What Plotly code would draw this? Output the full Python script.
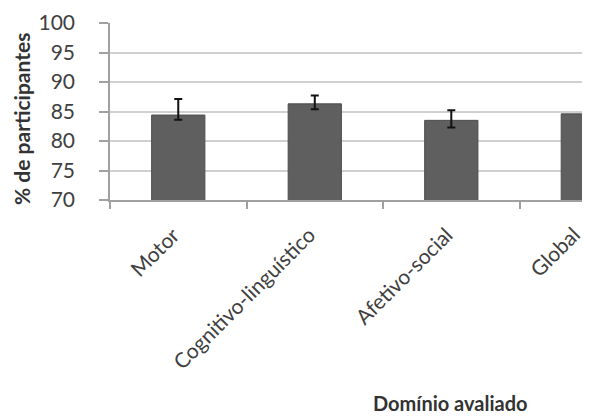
import plotly.graph_objects as go

categories = ["Motor", "Cognitivo-linguístico", "Afetivo-social", "Global"]
values = [84.4, 86.3, 83.5, 84.6]
err_plus = [2.7, 1.4, 1.7, 4.5]
err_minus = [0.8, 0.9, 1.2, 0.8]
y_ticks = [70, 75, 80, 85, 90, 95, 100]

FONT = "Lato"
GRID = "#d0d0d0"
OFF = 8  # default page body margin

W, H = 590 - OFF, 418 - OFF
L, T, B = 110 - OFF, 23 - OFF, (418 - OFF) - (200 - OFF)

fig = go.Figure()
fig.add_trace(go.Bar(
    x=categories, y=values, width=0.39,
    marker=dict(color="#5f5f5f", line=dict(color="#4d4d4d", width=1)),
    error_y=dict(type="data", symmetric=False, array=err_plus, arrayminus=err_minus,
                 color="#111111", thickness=2, width=4),
))

fig.update_layout(
    width=W, height=H,
    margin=dict(l=L, r=0, t=T, b=B, autoexpand=False),
    paper_bgcolor="white", plot_bgcolor="white",
    showlegend=False,
    font=dict(family=FONT, color="#404040"),
)
fig.update_xaxes(
    type="category", range=[-0.5, 3.016], showticklabels=False,
    tickson="boundaries", ticks="outside", ticklen=7, tickcolor="#a0a0a0", tickwidth=1.5,
    showline=True, linecolor="#a0a0a0", linewidth=1.5,
    showgrid=False, automargin=False,
)
fig.update_yaxes(
    range=[70, 100], tickvals=y_ticks,
    tickfont=dict(size=21, family=FONT, color="#404040"),
    ticks="outside", ticklen=9, tickcolor="#a0a0a0", tickwidth=1.5,
    ticklabelstandoff=20,
    showline=True, linecolor="#a0a0a0", linewidth=1.5,
    showgrid=True, gridcolor=GRID, gridwidth=2,
    zeroline=False, automargin=False,
)

# category labels, rotated like the original; the last one kept just inside the page edge
label_xshift = {"Global": -9}
for cat in categories:
    fig.add_annotation(
        text=cat, x=cat, xref="x", y=0, yref="paper",
        xanchor="right", yanchor="top", textangle=-45,
        xshift=8 + label_xshift.get(cat, 0), yshift=-19,
        showarrow=False, font=dict(size=21, family=FONT, color="#404040"),
    )

fig.add_annotation(
    text="<b>% de participantes</b>", xref="paper", yref="paper",
    x=(21 - 110) / 480, y=(200 - 119) / 177, xanchor="center", yanchor="middle",
    textangle=-90, showarrow=False, font=dict(size=21, family=FONT, color="#333333"),
)
fig.add_annotation(
    text="<b>Domínio avaliado</b>", xref="paper", yref="paper",
    x=(450 - 110) / 480, y=-(403 - 200) / 177, xanchor="center", yanchor="middle",
    showarrow=False, font=dict(size=20, family=FONT, color="#333333"),
)

fig.write_html("out.html")
